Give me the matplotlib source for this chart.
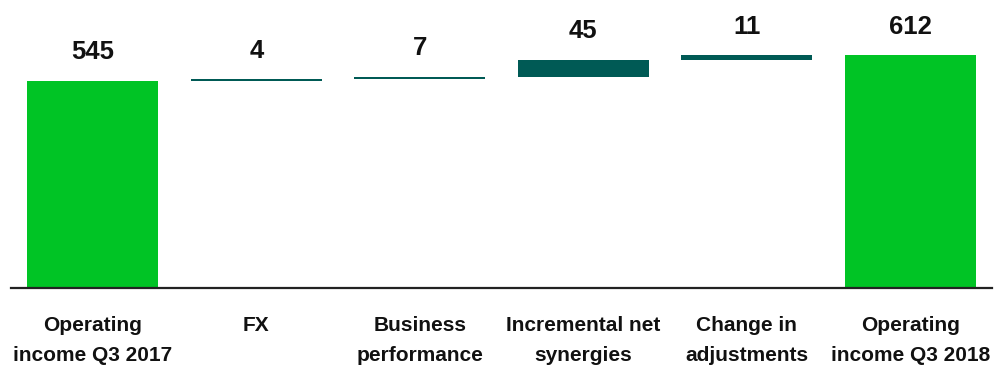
import numpy as np
import matplotlib.pyplot as plt

plt.rcParams['font.family'] = ['Liberation Sans', 'DejaVu Sans']

# waterfall data
categories = ['Operating\nincome Q3 2017', 'FX', 'Business\nperformance',
              'Incremental net\nsynergies', 'Change in\nadjustments', 'Operating\nincome Q3 2018']
values = [545, 4, 7, 45, 11, 612]
is_total = [True, False, False, False, False, True]

green = '#00C425'
teal = '#005A55'

# compute bottoms for the step bars
bottoms = []
heights = []
running = 0
for v, tot in zip(values, is_total):
    if tot:
        bottoms.append(0)
        heights.append(v)
        running = v
    else:
        bottoms.append(running)
        heights.append(v)
        running += v
tops = np.array(bottoms) + np.array(heights)

fig = plt.figure(figsize=(9.94, 3.65), dpi=100)
ax = fig.add_axes([11 / 994, 77 / 365, 981 / 994, 266 / 365])

x = np.arange(len(categories))
colors = [green if t else teal for t in is_total]
ax.bar(x, heights, bottom=bottoms, width=0.8, color=colors)

for xi, top, v in zip(x, tops, values):
    ax.annotate(str(v), (xi, top), xytext=(0, 12), textcoords='offset points',
                ha='center', va='bottom', fontsize=18.5, fontweight='bold', color='#111111')

ax.set_xlim(-0.5, len(categories) - 0.5)
ax.set_ylim(0, 700)
ax.set_xticks(x)
ax.set_xticklabels(categories, fontsize=15, fontweight='bold', linespacing=1.78, color='#111111')
ax.tick_params(axis='x', length=0, pad=20)
ax.set_yticks([])
for s in ['top', 'left', 'right']:
    ax.spines[s].set_visible(False)
ax.spines['bottom'].set_linewidth(1.6)
ax.spines['bottom'].set_color('#222222')

fig.savefig('out.png', dpi=100)
